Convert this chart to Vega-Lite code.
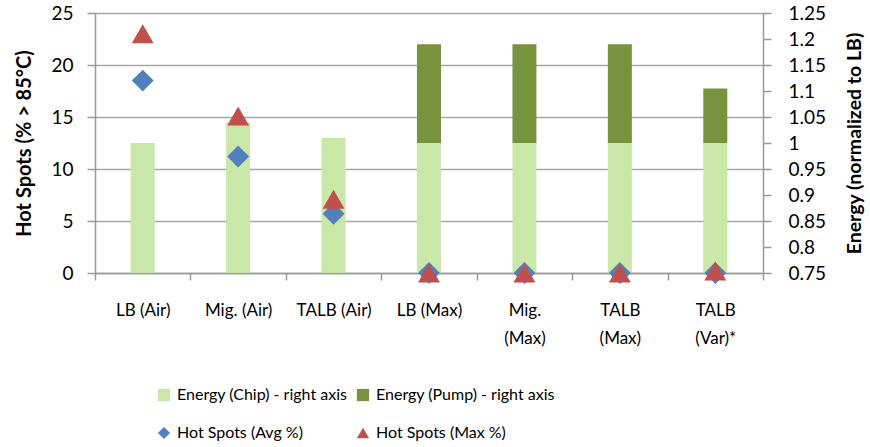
{
  "$schema": "https://vega.github.io/schema/vega-lite/v6.json",
  "width": 668,
  "height": 260,
  "padding": {"left": 14, "top": 4, "right": 4, "bottom": 4},
  "config": {
    "view": {"stroke": null},
    "font": "Lato",
    "axis": {"labelFont": "Lato", "titleFont": "Lato", "labelFontSize": 19, "titleFontSize": 20, "labelColor": "#000", "titleColor": "#000", "domainColor": "#999", "tickColor": "#999", "domainWidth": 1.5, "tickWidth": 1.5, "gridColor": "#A6A6A6", "gridWidth": 1.5},
    "legend": {"labelFont": "Lato", "labelFontSize": 16, "labelColor": "#000"}
  },
  "data": {
    "values": [
      {"cat": "LB (Air)", "kind": "energy", "series": "Energy (Chip) - right axis", "value": 1.0},
      {"cat": "Mig. (Air)", "kind": "energy", "series": "Energy (Chip) - right axis", "value": 1.04},
      {"cat": "TALB (Air)", "kind": "energy", "series": "Energy (Chip) - right axis", "value": 1.01},
      {"cat": "LB (Max)", "kind": "energy", "series": "Energy (Chip) - right axis", "value": 1.0},
      {"cat": "Mig. (Max)", "kind": "energy", "series": "Energy (Chip) - right axis", "value": 1.0},
      {"cat": "TALB (Max)", "kind": "energy", "series": "Energy (Chip) - right axis", "value": 1.0},
      {"cat": "TALB (Var)*", "kind": "energy", "series": "Energy (Chip) - right axis", "value": 1.0},
      {"cat": "LB (Max)", "kind": "energy", "series": "Energy (Pump) - right axis", "value": 0.19},
      {"cat": "Mig. (Max)", "kind": "energy", "series": "Energy (Pump) - right axis", "value": 0.19},
      {"cat": "TALB (Max)", "kind": "energy", "series": "Energy (Pump) - right axis", "value": 0.19},
      {"cat": "TALB (Var)*", "kind": "energy", "series": "Energy (Pump) - right axis", "value": 0.105},
      {"cat": "LB (Air)", "kind": "hot", "series": "Hot Spots  (Avg %)", "value": 18.5},
      {"cat": "Mig. (Air)", "kind": "hot", "series": "Hot Spots  (Avg %)", "value": 11.2},
      {"cat": "TALB (Air)", "kind": "hot", "series": "Hot Spots  (Avg %)", "value": 5.7},
      {"cat": "LB (Max)", "kind": "hot", "series": "Hot Spots  (Avg %)", "value": 0},
      {"cat": "Mig. (Max)", "kind": "hot", "series": "Hot Spots  (Avg %)", "value": 0},
      {"cat": "TALB (Max)", "kind": "hot", "series": "Hot Spots  (Avg %)", "value": 0},
      {"cat": "TALB (Var)*", "kind": "hot", "series": "Hot Spots  (Avg %)", "value": 0},
      {"cat": "LB (Air)", "kind": "hot", "series": "Hot Spots  (Max %)", "value": 23.0},
      {"cat": "Mig. (Air)", "kind": "hot", "series": "Hot Spots  (Max %)", "value": 15.1},
      {"cat": "TALB (Air)", "kind": "hot", "series": "Hot Spots  (Max %)", "value": 7.1},
      {"cat": "LB (Max)", "kind": "hot", "series": "Hot Spots  (Max %)", "value": 0},
      {"cat": "Mig. (Max)", "kind": "hot", "series": "Hot Spots  (Max %)", "value": 0},
      {"cat": "TALB (Max)", "kind": "hot", "series": "Hot Spots  (Max %)", "value": 0},
      {"cat": "TALB (Var)*", "kind": "hot", "series": "Hot Spots  (Max %)", "value": 0.2}
    ]
  },
  "encoding": {
    "x": {
      "field": "cat", "type": "nominal", "sort": null,
      "scale": {"paddingInner": 0, "paddingOuter": 0},
      "axis": {"title": null, "labelAngle": 0, "labelFontSize": 17, "tickBand": "extent", "tickSize": 7, "labelPadding": 30, "domain": true, "labelBaseline": "middle",
        "labelExpr": "indexof(['Mig. (Max)','TALB (Max)','TALB (Var)*'], datum.label) >= 0 ? split(datum.label, ' ') : datum.label",
        "labelLineHeight": 28}
    },
    "color": {
      "field": "series", "type": "nominal",
      "scale": {"domain": ["Energy (Chip) - right axis", "Energy (Pump) - right axis", "Hot Spots  (Avg %)", "Hot Spots  (Max %)"],
                "range": ["#C9E7A7", "#77933C", "#4F81BD", "#C0504D"]},
      "legend": {"title": null, "orient": "none", "legendX": 61, "legendY": 374, "columns": 2, "direction": "horizontal", "columnPadding": 7, "rowPadding": 22, "symbolSize": 150, "symbolOpacity": 1, "labelLimit": 300, "labelOffset": 5,
        "encode": {"symbols": {"update": {"shape": {"signal": "datum.value == 'Hot Spots  (Avg %)' ? 'diamond' : datum.value == 'Hot Spots  (Max %)' ? 'triangle-up' : 'square'"}, "strokeWidth": {"value": 0}}}}}
    }
  },
  "layer": [
    {
      "transform": [{"filter": "datum.kind == 'energy'"}],
      "mark": {"type": "bar", "size": 24, "clip": true},
      "encoding": {
        "y": {"field": "value", "type": "quantitative", "stack": "zero",
          "scale": {"domain": [0.75, 1.25], "zero": false, "nice": false},
          "axis": {"orient": "right", "title": "Energy (normalized to LB)", "titleFontWeight": "bold", "titleFontSize": 19.5, "titleAngle": -90, "titleBaseline": "top", "titlePadding": 20, "grid": false, "format": "~g", "values": [0.75, 0.8, 0.85, 0.9, 0.95, 1, 1.05, 1.1, 1.15, 1.2, 1.25], "tickSize": 8, "labelPadding": 17}
        },
        "order": {"field": "series", "type": "nominal", "sort": "ascending"}
      }
    },
    {
      "transform": [{"filter": "datum.kind == 'hot'"}],
      "mark": {"type": "point", "filled": true, "opacity": 1, "size": 480},
      "encoding": {
        "y": {"field": "value", "type": "quantitative",
          "scale": {"domain": [0, 25], "nice": false},
          "axis": {"orient": "left", "title": "Hot Spots (% > 85°C)", "titleFontWeight": "bold", "titlePadding": 16, "grid": true, "values": [0, 5, 10, 15, 20, 25], "tickSize": 8, "labelPadding": 14}
        },
        "shape": {"field": "series", "type": "nominal",
          "scale": {"domain": ["Hot Spots  (Avg %)", "Hot Spots  (Max %)"], "range": ["diamond", "triangle-up"]},
          "legend": null}
      }
    }
  ],
  "resolve": {"scale": {"y": "independent"}}
}
